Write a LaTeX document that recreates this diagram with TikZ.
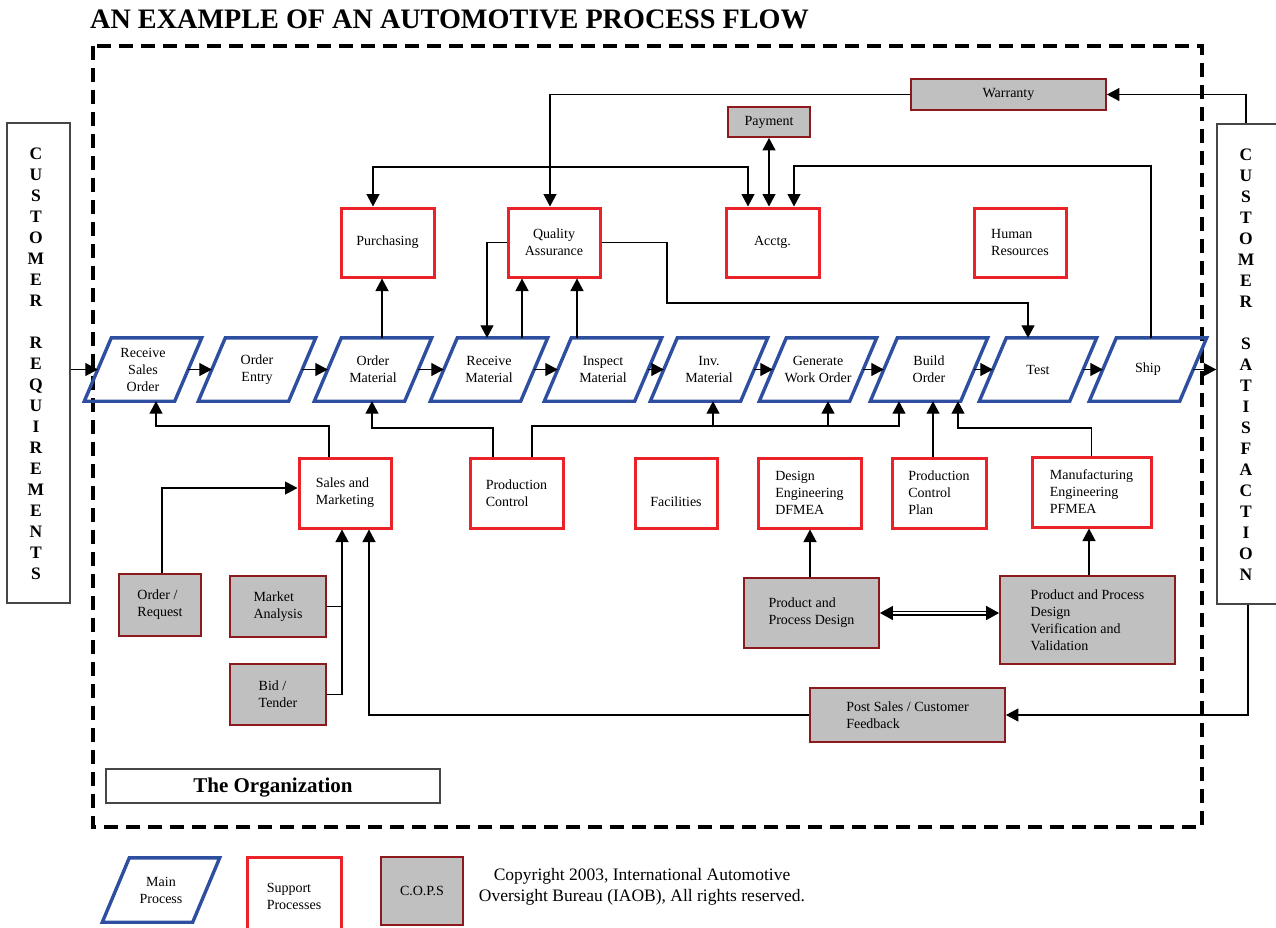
\documentclass[tikz,border=0pt]{standalone}
\usepackage{fontspec}
\setmainfont{Liberation Serif}
\usetikzlibrary{arrows.meta,calc}
\definecolor{procblue}{RGB}{46,78,160}
\definecolor{supred}{RGB}{235,35,40}
\definecolor{copsfill}{RGB}{192,192,192}
\definecolor{copsline}{RGB}{140,25,30}
\definecolor{frameg}{RGB}{70,70,70}
\newcommand\drawpgram[1]{\draw[procline] ([xshift=-13.5pt]#1.south west) -- ([xshift=-13.5pt]#1.south east) -- ([xshift=13.5pt]#1.north east) -- ([xshift=13.5pt]#1.north west) -- cycle;}
\begin{document}
\begin{tikzpicture}[x=1pt,y=-1pt,
  txt/.style={font=\fontsize{14}{17}\selectfont},
  proc/.style={txt, minimum width=90pt, minimum height=63pt, inner sep=0pt, align=center},
  procline/.style={draw=procblue, line width=3.4pt, line join=miter},
  sup/.style={txt, draw=supred, line width=3pt, fill=white, inner sep=0pt, align=left},
  cops/.style={txt, draw=copsline, line width=1.8pt, fill=copsfill, inner sep=0pt, align=left},
  cust/.style={draw=frameg, line width=1.5pt, fill=white, inner sep=0pt},
  letters/.style={font=\fontsize{17.5}{21}\selectfont\bfseries, align=center, inner sep=0pt},
  conn/.style={line width=1.2pt},
  arr/.style={conn, -{Triangle[length=12.5pt,width=13pt]}},
  arrb/.style={conn, {Triangle[length=12.5pt,width=13pt]}-{Triangle[length=12.5pt,width=13pt]}},
  dbl/.style={double, double distance=2.4pt, line width=1.3pt, {Triangle[length=13pt,width=14pt]}-{Triangle[length=13pt,width=14pt]}},
]
\useasboundingbox (0,0) rectangle (1276,927);

% title
\node[anchor=base west, inner sep=0pt, font=\fontsize{28.2}{32}\selectfont\bfseries] (title) at (90,28) {AN EXAMPLE OF AN AUTOMOTIVE PROCESS FLOW};

% organization frame
\draw[line width=3.5pt, dash pattern=on 14pt off 8pt] (93,46) rectangle (1202,827);
\node[draw=frameg, line width=2pt, minimum width=334pt, minimum height=34pt, inner sep=0pt, font=\fontsize{21}{25}\selectfont\bfseries] (org) at (273,786) {\raisebox{-2pt}[\height][\depth]{The Organization}};

% customer boxes
\node[cust, minimum width=63pt, minimum height=480pt] (creq) at (38.5,363) {};
\node[letters] (creqtxt) at (36,364) {C\\U\\S\\T\\O\\M\\E\\R\\[21pt]R\\E\\Q\\U\\I\\R\\E\\M\\E\\N\\T\\S};
\node[cust, minimum width=80pt, minimum height=480pt] (csat) at (1257,364) {};
\node[letters] (csattxt) at (1246,365) {C\\U\\S\\T\\O\\M\\E\\R\\[21pt]S\\A\\T\\I\\S\\F\\A\\C\\T\\I\\O\\N};

% main process
\node[proc] (rso) at (143,369.5) {Receive\\Sales\\Order};
\node[proc] (oe) at (257,369.5) {Order\\Entry};
\node[proc] (om) at (373,369.5) {Order\\Material};
\node[proc] (rm) at (489,369.5) {Receive\\Material};
\node[proc] (im) at (603,369.5) {Inspect\\Material};
\node[proc] (inv) at (709,369.5) {Inv.\\Material};
\node[proc] (gwo) at (818,369.5) {Generate\\Work Order};
\node[proc] (bo) at (929,369.5) {Build\\Order};
\node[proc] (test) at (1038,369.5) {Test};
\node[proc] (ship) at (1148,369.5) {Ship};
\foreach \n in {rso,oe,om,rm,im,inv,gwo,bo,test,ship} {\drawpgram{\n}}

% support processes
\node[sup, minimum width=93pt, minimum height=69pt, align=center] (purch) at (387.5,242.5) {Purchasing};
\node[sup, minimum width=92pt, minimum height=69pt, align=center] (qa) at (554,242.5) {Quality\\Assurance};
\node[sup, minimum width=93pt, minimum height=69pt, align=center] (acctg) at (772.5,242.5) {Acctg.};
\node[sup, minimum width=92pt, minimum height=69pt] (hr) at (1020,242.5) {Human\\Resources};
\node[sup, minimum width=92pt, minimum height=70pt] (sm) at (345,493) {Sales and\\Marketing};
\node[sup, minimum width=93pt, minimum height=70pt] (pc) at (516.5,493) {Production\\Control};
\node[sup, minimum width=82pt, minimum height=70pt] (fac) at (676,493) {\raisebox{-9pt}[\height][\depth]{Facilities}};
\node[sup, minimum width=103pt, minimum height=70pt] (de) at (809.5,493) {Design\\Engineering\\DFMEA};
\node[sup, minimum width=94pt, minimum height=70pt] (pcp) at (939,493) {Production\\Control\\Plan};
\node[sup, minimum width=119pt, minimum height=70pt] (me) at (1091.5,492) {Manufacturing\\Engineering\\PFMEA};

% C.O.P.S
\node[cops, minimum width=195pt, minimum height=31pt, align=center] (warranty) at (1008.5,94.5) {Warranty};
\node[cops, minimum width=82pt, minimum height=30pt, align=center] (payment) at (769,122) {Payment};
\node[cops, minimum width=82pt, minimum height=62pt] (ordreq) at (160,605) {Order /\\Request};
\node[cops, minimum width=96pt, minimum height=61pt] (market) at (278,606.5) {Market\\Analysis};
\node[cops, minimum width=96pt, minimum height=61pt] (bid) at (278,694.5) {Bid /\\Tender};
\node[cops, minimum width=135pt, minimum height=70pt] (ppd) at (811.5,613) {Product and\\Process Design};
\node[cops, minimum width=175pt, minimum height=88pt] (ppdvv) at (1087.5,620) {Product and Process\\Design\\Verification and\\Validation};
\node[cops, minimum width=195pt, minimum height=54pt] (post) at (907.5,715) {Post Sales / Customer\\Feedback};

% main flow connectors
\draw[arr] (creq.east |- rso.west) -- (rso.west);
\draw[arr] (rso.east) -- (oe.west);
\draw[arr] (oe.east) -- (om.west);
\draw[arr] (om.east) -- (rm.west);
\draw[arr] (rm.east) -- (im.west);
\draw[arr] (im.east) -- (inv.west);
\draw[arr] (inv.east) -- (gwo.west);
\draw[arr] (gwo.east) -- (bo.west);
\draw[arr] (bo.east) -- (test.west);
\draw[arr] (test.east) -- (ship.west);
\draw[arr] (ship.east) -- (ship.east -| csat.west);

% upper connectors
\draw[arr] ([xshift=9pt]om.north) -- ([xshift=9pt]om.north |- purch.south);
\draw[arrb] ([xshift=-14.5pt]purch.north) |- (748,167) -- ([xshift=-24.5pt]acctg.north);
\draw[arrb] (payment.south) -- (payment.south |- acctg.north);
\draw[arr] ([xshift=3pt]ship.north) |- (794,166) -- ([xshift=21.5pt]acctg.north);
\draw[arr] ([xshift=-11pt]csat.north) |- (warranty.east);
\draw[arr] (warranty.west) -| ([xshift=-4pt]qa.north);
\draw[arr] (qa.west) -| ([xshift=-2pt]rm.north);
\draw[arr] ([xshift=33pt]rm.north) -- ([xshift=33pt]rm.north |- qa.south);
\draw[arr] ([xshift=-26pt]im.north) -- ([xshift=-26pt]im.north |- qa.south);
\draw[arr] (qa.east) -| (667,303) -| ([xshift=-10pt]test.north);

% lower connectors
\draw[arr] ([xshift=-16pt]sm.north) |- (156,426) -- ([xshift=13pt]rso.south);
\draw[arr] ([xshift=-23.5pt]pc.north) |- (372,428) -- ([xshift=-1pt]om.south);
\coordinate (pcbus) at (0,426);
\draw[arr] ([xshift=15.5pt]pc.north) |- (899,426) -- ([xshift=-30pt]bo.south);
\draw[arr] ([xshift=4pt]inv.south |- pcbus) -- ([xshift=4pt]inv.south);
\draw[arr] ([xshift=10pt]gwo.south |- pcbus) -- ([xshift=10pt]gwo.south);
\draw[arr] ([xshift=-6pt]pcp.north) -- ([xshift=-6pt]pcp.north |- bo.south);
\draw[arr] (me.north) |- (958,428) -- ([xshift=29pt]bo.south);
\draw[arr] ([xshift=-1.5pt]ppd.north) -- ([xshift=-1.5pt]ppd.north |- de.south);
\draw[arr] ([xshift=1.5pt]ppdvv.north) -- ([xshift=1.5pt]ppdvv.north |- me.south);
\draw[dbl] (ppd.east) -- (ppd.east -| ppdvv.west);
\draw[arr] ([xshift=2pt]ordreq.north) |- ([yshift=5pt]sm.west);
\draw[arr] (market.east) -| ([xshift=-3pt]sm.south);
\draw[conn] (bid.east) -| ([xshift=-3pt]sm.south |- market.east);
\draw[arr] (post.west) -| ([xshift=24pt]sm.south);
\draw[arr] ([xshift=-9pt]csat.south) |- (post.east);

% legend
\node[proc, minimum height=64pt] (lmain) at (161,890) {Main\\Process};
\drawpgram{lmain}
\node[sup, minimum width=94pt, minimum height=78pt] (lsup) at (294,896) {Support\\Processes};
\node[cops, minimum width=82pt, minimum height=68pt, align=center] (lcops) at (422,891) {C.O.P.S};
\node[font=\fontsize{17.5}{21}\selectfont, align=center, inner sep=0pt] (copy) at (642,887) {Copyright 2003, International Automotive\\Oversight Bureau (IAOB), All rights reserved.};
\end{tikzpicture}
\end{document}
